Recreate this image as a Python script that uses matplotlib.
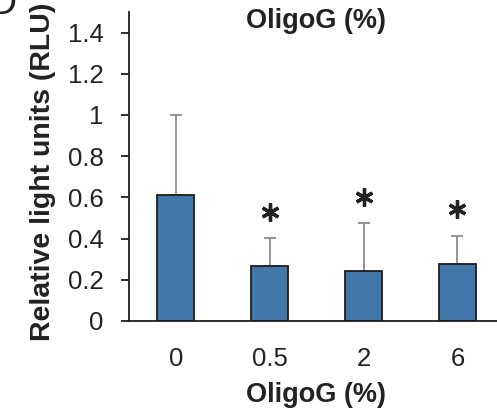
import matplotlib
matplotlib.use("Agg")
import matplotlib.pyplot as plt

categories = ["0", "0.5", "2", "6"]
means = [0.612, 0.268, 0.243, 0.278]
errors = [0.389, 0.135, 0.233, 0.135]
sig_y = [None, 0.53, 0.60, 0.545]
yticks = [0, 0.2, 0.4, 0.6, 0.8, 1, 1.2, 1.4]
ytick_labels = ["0", "0.2", "0.4", "0.6", "0.8", "1", "1.2", "1.4"]

plt.rcParams['font.family'] = ['Liberation Sans', 'DejaVu Sans']

fig = plt.figure(figsize=(4.97, 4.12), dpi=100)
ax = fig.add_axes([0.259, 0.2209, 0.756, 0.75])

x = list(range(len(categories)))
ax.bar(x, means, width=0.4, color="#4178a9", edgecolor="#1e1e1e", linewidth=1.3, zorder=2)
ax.errorbar(x, means, yerr=[[0]*len(errors), errors], fmt="none", ecolor="#8c8c8c",
            elinewidth=1.3, capsize=4.5, capthick=1.3, zorder=1)

for xi, sy in zip(x, sig_y):
    if sy is not None:
        ax.plot(xi, sy, marker=(6, 2, 0), markersize=13, color="#222222", mew=2.4,
                linestyle="none", zorder=3)

ax.set_xlim(-0.5, 3.5)
ax.set_ylim(0, 1.5)
ax.set_yticks(yticks)
ax.set_yticklabels(ytick_labels)
ax.set_xticks(x)
ax.set_xticklabels(categories)

for s in ["top", "right"]:
    ax.spines[s].set_visible(False)
ax.spines["left"].set_linewidth(1.3)
ax.spines["bottom"].set_linewidth(1.3)
ax.spines["left"].set_color("#1e1e1e")
ax.spines["bottom"].set_color("#1e1e1e")

ax.tick_params(axis="y", direction="out", length=6, width=1.3, pad=12, labelsize=18.5,
               colors="#1e1e1e")
ax.tick_params(axis="x", length=0, pad=19, labelsize=18.5, colors="#1e1e1e")
for lbl in ax.get_xticklabels() + ax.get_yticklabels():
    lbl.set_color("#222222")

fig.text(0.636, 0.949, "OligoG (%)", ha="center", va="center", fontsize=19.5,
         fontweight="bold", color="#222222")
fig.text(0.636, 0.041, "OligoG (%)", ha="center", va="center", fontsize=19.5,
         fontweight="bold", color="#222222")
fig.text(0.0865, 0.583, "Relative light units (RLU)", ha="center", va="center",
         rotation=90, fontsize=20.5, fontweight="bold", color="#222222")
fig.text(0.033, 0.966, "D", ha="right", va="baseline", fontsize=28, color="#222222")

fig.savefig("out.png", dpi=100)
